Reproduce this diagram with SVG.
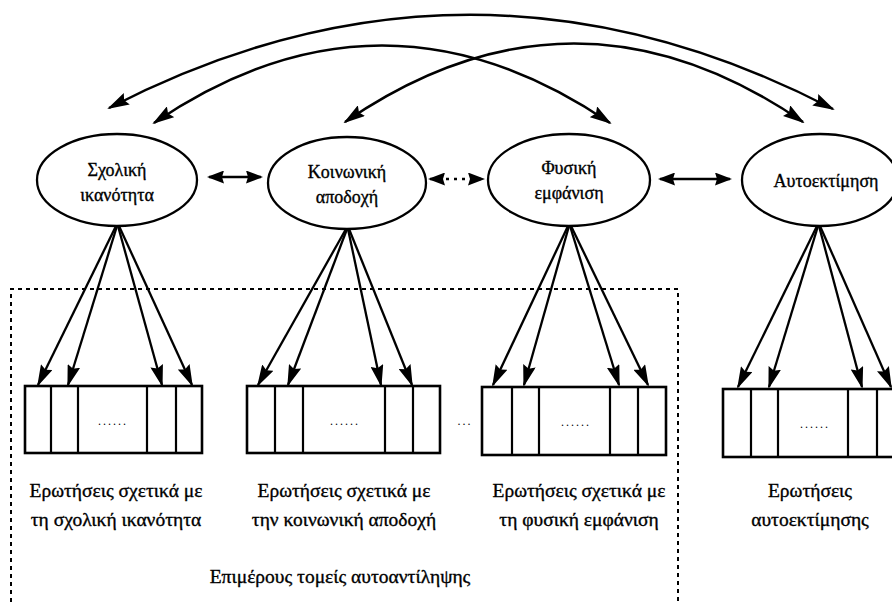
<svg xmlns="http://www.w3.org/2000/svg" width="892" height="605" viewBox="0 0 892 605">
<defs>
<style>
.lbl{font-family:"Liberation Serif","DejaVu Serif",serif;fill:#000;stroke:#000;stroke-width:0.35;text-anchor:middle}
.nl{font-size:18px}
.bl{font-size:19.5px}
.dots{font-family:"Liberation Serif","DejaVu Serif",serif;font-size:12px;letter-spacing:2px;text-anchor:middle;fill:#000}
.el{fill:#fff;stroke:#000;stroke-width:2.3}
.box{fill:#fff;stroke:#000;stroke-width:2.6}
.div{stroke:#000;stroke-width:2.2}
.arc{fill:none;stroke:#000;stroke-width:2.5;marker-start:url(#ah);marker-end:url(#ah)}
.dbl{fill:none;stroke:#000;stroke-width:2.6;marker-start:url(#hh);marker-end:url(#hh)}
.fan{fill:none;stroke:#000;stroke-width:2.3;marker-end:url(#fh)}
.frame{fill:none;stroke:#000;stroke-width:2;stroke-dasharray:4 4}
</style>
<marker id="ah" viewBox="0 0 22 13" refX="20" refY="6.5" markerWidth="22" markerHeight="13" markerUnits="userSpaceOnUse" orient="auto-start-reverse"><path d="M0,0 L22,6.5 L0,13 L3,6.5 z" fill="#000"/></marker>
<marker id="hh" viewBox="0 0 17 13" refX="15" refY="6.5" markerWidth="17" markerHeight="13" markerUnits="userSpaceOnUse" orient="auto-start-reverse"><path d="M0,0 L17,6.5 L0,13 L2,6.5 z" fill="#000"/></marker>
<marker id="fh" viewBox="0 0 22 13" refX="20" refY="6.5" markerWidth="22" markerHeight="13" markerUnits="userSpaceOnUse" orient="auto"><path d="M0,0 L22,6.5 L0,13 L3,6.5 z" fill="#000"/></marker>
</defs>
<rect width="892" height="605" fill="#fff"/>

<g id="frame-epimerous">
<path class="frame" d="M11,610 L11,289 L678,289 L678,610"/>
<text class="lbl bl" x="340" y="583">Επιμέρους τομείς αυτοαντίληψης</text>
</g>

<g id="connectors">
<path class="arc" d="M109,108 Q471,-79 833,109"/>
<path class="arc" d="M154,123 Q382,-32 610,123"/>
<path class="arc" d="M345,122 Q574,-35 803,122"/>
<path class="dbl" d="M209,177 L261,177"/>
<path class="dbl" d="M430,179 L483,179" stroke-dasharray="3 5"/>
<path class="dbl" d="M660,179 L730,179"/>
<path class="fan" d="M116,226 L38,385"/>
<path class="fan" d="M117,226 L68,385"/>
<path class="fan" d="M118,226 L162,385"/>
<path class="fan" d="M119,226 L192,385"/>
<path class="fan" d="M346,229 L258,385"/>
<path class="fan" d="M347,229 L288,385"/>
<path class="fan" d="M348,229 L381,385"/>
<path class="fan" d="M349,229 L412,385"/>
<path class="fan" d="M568,226 L493,385"/>
<path class="fan" d="M569,226 L524,385"/>
<path class="fan" d="M570,226 L619,385"/>
<path class="fan" d="M571,226 L648,385"/>
<path class="fan" d="M817,226 L738,387"/>
<path class="fan" d="M818,226 L769,387"/>
<path class="fan" d="M819,226 L862,387"/>
<path class="fan" d="M820,226 L891,387"/>
</g>

<g id="n-sxoliki">
<ellipse class="el" cx="117" cy="180" rx="80" ry="46"/>
<text class="lbl nl" x="117" y="176">Σχολική</text>
<text class="lbl nl" x="117" y="201">ικανότητα</text>
</g>
<g id="n-koinoniki">
<ellipse class="el" cx="347" cy="183" rx="79" ry="46"/>
<text class="lbl nl" x="347" y="178">Κοινωνική</text>
<text class="lbl nl" x="347" y="203">αποδοχή</text>
</g>
<g id="n-fysiki">
<ellipse class="el" cx="569" cy="180" rx="81" ry="46"/>
<text class="lbl nl" x="569" y="174">Φυσική</text>
<text class="lbl nl" x="569" y="199">εμφάνιση</text>
</g>
<g id="n-autoektimisi">
<ellipse class="el" cx="820" cy="180" rx="78" ry="46"/>
<text class="lbl nl" x="826" y="187">Αυτοεκτίμηση</text>
</g>

<g id="b-sxoliki">
<rect class="box" x="25" y="386" width="177" height="67"/>
<path class="div" d="M51,386V453M78,386V453M147,386V453M176,386V453"/>
<text class="dots" x="113" y="425">......</text>
<text class="lbl bl" x="116" y="497">Ερωτήσεις σχετικά με</text>
<text class="lbl bl" x="116" y="526">τη σχολική ικανότητα</text>
</g>
<g id="b-koinoniki">
<rect class="box" x="247" y="386" width="193" height="67"/>
<path class="div" d="M275,386V453M303,386V453M385,386V453M413,386V453"/>
<text class="dots" x="345" y="425">......</text>
<text class="lbl bl" x="344" y="497">Ερωτήσεις σχετικά με</text>
<text class="lbl bl" x="344" y="526">την κοινωνική αποδοχή</text>
</g>
<g id="ellipsis-mid">
<text class="dots" x="465" y="425">...</text>
</g>
<g id="b-fysiki">
<rect class="box" x="482" y="387" width="184" height="68"/>
<path class="div" d="M512,387V455M539,387V455M610,387V455M638,387V455"/>
<text class="dots" x="576" y="426">......</text>
<text class="lbl bl" x="579" y="497">Ερωτήσεις σχετικά με</text>
<text class="lbl bl" x="579" y="526">τη φυσική εμφάνιση</text>
</g>
<g id="b-autoektimisi">
<rect class="box" x="723" y="389" width="182" height="68"/>
<path class="div" d="M751,389V457M778,389V457M848,389V457M877,389V457"/>
<text class="dots" x="815" y="428">......</text>
<text class="lbl bl" x="810" y="497">Ερωτήσεις</text>
<text class="lbl bl" x="810" y="526">αυτοεκτίμησης</text>
</g>
</svg>
